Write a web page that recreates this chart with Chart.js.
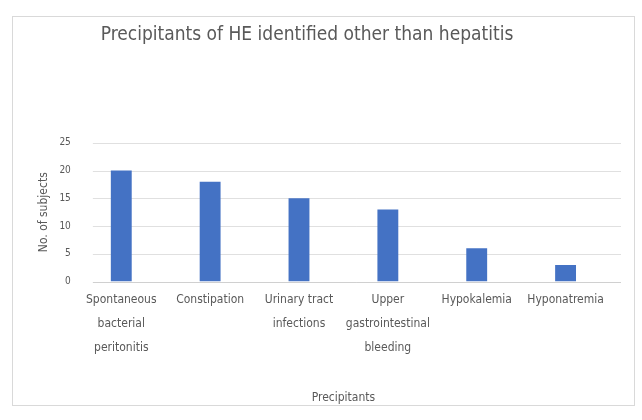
<!DOCTYPE html>
<html>
<head>
<meta charset="utf-8">
<script src="https://cdn.jsdelivr.net/npm/chart.js@4"></script>
<style>
  html, body { margin: 0; padding: 0; background: #fff; }
  #frame { position: absolute; left: 12px; top: 16px; width: 621px; height: 388px; border: 1px solid #d9d9d9; }
  #wrap { position: absolute; left: 0; top: 0; width: 642px; height: 420px; }
</style>
</head>
<body>
<div id="frame"></div>
<div id="wrap"><canvas id="chart" width="642" height="420"></canvas></div>
<script>
// chart data
const categories = [
  ['Spontaneous', 'bacterial', 'peritonitis'],
  'Constipation',
  ['Urinary tract', 'infections'],
  ['Upper', 'gastrointestinal', 'bleeding'],
  'Hypokalemia',
  'Hyponatremia'
];
const subjects = [20, 18, 15, 13, 6, 3];

const fontFamily = '"DejaVu Sans Condensed", "Liberation Sans Narrow", sans-serif';
const textColor = '#595959';

// horizontal gridlines in the original are shifted right of the category band
const gridLines = {
  id: 'gridLines',
  beforeDatasetsDraw(chart) {
    const { ctx, chartArea, scales } = chart;
    const x0 = chartArea.left + 16;
    const x1 = chartArea.right + 11;
    ctx.save();
    ctx.lineWidth = 1;
    scales.y.ticks.forEach((t) => {
      const y = Math.round(scales.y.getPixelForValue(t.value)) + 0.5;
      ctx.strokeStyle = t.value === 0 ? '#d0d0d0' : '#e0e0e0';
      ctx.beginPath();
      ctx.moveTo(x0, y);
      ctx.lineTo(x1, y);
      ctx.stroke();
    });
    ctx.restore();
  }
};

const ctx = document.getElementById('chart').getContext('2d');
new Chart(ctx, {
  type: 'bar',
  data: {
    labels: categories,
    datasets: [{
      label: 'No. of subjects',
      data: subjects,
      backgroundColor: '#4472c4',
      barPercentage: 0.47,
      categoryPercentage: 0.5
    }]
  },
  options: {
    responsive: false,
    animation: false,
    layout: { padding: { top: 24, left: 4, right: 32, bottom: 15 } },
    plugins: {
      legend: { display: false },
      tooltip: { enabled: false },
      title: {
        display: true,
        text: 'Precipitants of HE identified other than hepatitis',
        color: textColor,
        font: { family: fontFamily, size: 19, weight: 'normal' },
        padding: { top: 0, bottom: 96 }
      }
    },
    scales: {
      x: {
        grid: { display: false, drawTicks: false },
        border: { display: false },
        ticks: {
          color: textColor,
          font: { family: fontFamily, size: 12, lineHeight: 2 },
          maxRotation: 0,
          autoSkip: false,
          padding: 6
        },
        title: {
          display: true,
          text: 'Precipitants',
          color: textColor,
          font: { family: fontFamily, size: 12 },
          padding: { top: 25, bottom: 0 }
        }
      },
      y: {
        min: 0,
        max: 25,
        grid: { display: false, drawTicks: false },
        border: { display: false },
        ticks: {
          stepSize: 5,
          color: textColor,
          font: { family: fontFamily, size: 10 },
          padding: 6
        },
        title: {
          display: true,
          text: 'No. of subjects',
          color: textColor,
          font: { family: fontFamily, size: 12 },
          padding: { top: 33, bottom: 2 }
        }
      }
    }
  },
  plugins: [gridLines]
});
</script>
</body>
</html>
